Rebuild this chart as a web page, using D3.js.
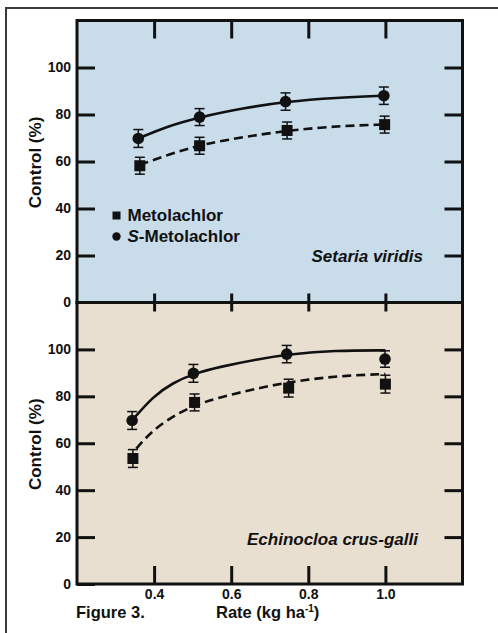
<!DOCTYPE html>
<html>
<head>
<meta charset="utf-8">
<script src="https://cdn.jsdelivr.net/npm/d3@7"></script>
<style>
  body { margin: 0; background: #fff; }
  svg text { font-family: "Liberation Sans", Arial, Helvetica, sans-serif; font-weight: bold; fill: #111; }
</style>
</head>
<body>
<div id="chart"></div>
<script>
// rates (kg/ha) and control (%)
const xTicks = [0.4, 0.6, 0.8, 1.0];
const yTicks = [0, 20, 40, 60, 80, 100];

const setariaRatesS = [0.359, 0.518, 0.741, 0.996];
const setariaS = [69.8, 78.9, 85.5, 88.0];
const setariaSErr = [3.8, 3.6, 3.7, 3.7];
const setariaRatesM = [0.363, 0.518, 0.745, 0.998];
const setariaM = [58.2, 66.7, 73.2, 75.7];
const setariaMErr = [3.6, 3.6, 3.6, 3.6];

const echinoRatesS = [0.343, 0.502, 0.744, 0.999];
const echinoS = [69.7, 89.8, 98.0, 95.9];
const echinoSErr = [3.8, 3.8, 3.7, 3.5];
const echinoRatesM = [0.345, 0.505, 0.749, 1.0];
const echinoM = [53.5, 77.4, 83.5, 85.2];
const echinoMErr = [3.8, 3.6, 3.8, 3.8];

// fitted curves, points
const setariaFitSX = [0.359, 0.432, 0.518, 0.631, 0.741, 0.873, 0.996];
const setariaFitSY = [69.8, 74.9, 78.9, 82.7, 85.5, 87.2, 88.0];
const setariaFitMX = [0.363, 0.449, 0.527, 0.639, 0.760, 0.890, 0.996];
const setariaFitMY = [58.6, 63.6, 67.4, 70.6, 73.5, 75.2, 75.7];
const echinoFitSX = [0.343, 0.397, 0.449, 0.502, 0.570, 0.674, 0.745, 0.870, 1.0];
const echinoFitSY = [69.7, 80.0, 85.8, 89.6, 92.6, 96.0, 97.8, 99.6, 99.6];
const echinoFitMX = [0.354, 0.397, 0.466, 0.527, 0.613, 0.700, 0.800, 0.900, 1.0];
const echinoFitMY = [57.7, 65.8, 73.3, 77.6, 81.3, 84.6, 87.3, 88.9, 89.5];

const width = 498, height = 633;
const left = 77, right = 462.5;

const svg = d3.select('#chart').append('svg')
  .attr('width', width)
  .attr('height', height);

// outer frame
svg.append('rect')
  .attr('x', 6).attr('y', 8)
  .attr('width', 600).attr('height', 700)
  .attr('fill', 'none')
  .attr('stroke', '#3a3a3a')
  .attr('stroke-width', 2);

const x = d3.scaleLinear().domain([0.2, 1.2]).range([left, right]);

const panels = [
  {
    top: 20.5, bottom: 302.5, fill: '#c8dcea', name: 'Setaria viridis',
    nameX: 423, nameY: 262, topTick: 18, bottomTick: 9, legend: true,
    S: { rates: setariaRatesS, vals: setariaS, err: setariaSErr, fx: setariaFitSX, fy: setariaFitSY },
    M: { rates: setariaRatesM, vals: setariaM, err: setariaMErr, fx: setariaFitMX, fy: setariaFitMY }
  },
  {
    top: 302.5, bottom: 584, fill: '#e8dfd1', name: 'Echinocloa crus-galli',
    nameX: 418, nameY: 545, topTick: 9, bottomTick: 18, legend: false,
    S: { rates: echinoRatesS, vals: echinoS, err: echinoSErr, fx: echinoFitSX, fy: echinoFitSY },
    M: { rates: echinoRatesM, vals: echinoM, err: echinoMErr, fx: echinoFitMX, fy: echinoFitMY }
  }
];

panels.forEach(function (p, i) {
  const y = d3.scaleLinear().domain([0, 120]).range([p.bottom, p.top]);
  const g = svg.append('g');

  g.append('rect')
    .attr('x', left).attr('y', p.top)
    .attr('width', right - left).attr('height', p.bottom - p.top)
    .attr('fill', p.fill);

  const styleAxis = function (sel) {
    sel.select('.domain').remove();
    sel.selectAll('.tick line').attr('stroke', '#111').attr('stroke-width', 3);
  };

  g.append('g').attr('transform', `translate(${left},0)`)
    .call(d3.axisLeft(y).tickValues(yTicks).tickSize(-18).tickPadding(6))
    .call(styleAxis)
    .selectAll('text').attr('font-size', 14).attr('fill', '#111');

  g.append('g').attr('transform', `translate(${right},0)`)
    .call(d3.axisRight(y).tickValues(yTicks.slice(1)).tickSize(-18).tickFormat(''))
    .call(styleAxis);

  g.append('g').attr('transform', `translate(0,${p.top})`)
    .call(d3.axisTop(x).tickValues(xTicks).tickSize(-p.topTick).tickFormat(''))
    .call(styleAxis);

  const bottomAxis = g.append('g').attr('transform', `translate(0,${p.bottom})`)
    .call(d3.axisBottom(x).tickValues(xTicks).tickSize(-p.bottomTick).tickPadding(5)
      .tickFormat(i === 1 ? d3.format('.1f') : ''))
    .call(styleAxis);
  bottomAxis.selectAll('text').attr('font-size', 14).attr('fill', '#111');

  // panel border
  g.append('rect')
    .attr('x', left).attr('y', p.top)
    .attr('width', right - left).attr('height', p.bottom - p.top)
    .attr('fill', 'none')
    .attr('stroke', '#111')
    .attr('stroke-width', 3);

  // y title
  g.append('text')
    .attr('transform', `translate(41,${(p.top + p.bottom) / 2 + 1}) rotate(-90)`)
    .attr('text-anchor', 'middle')
    .attr('font-size', 17)
    .text('Control (%)');

  // species name
  g.append('text')
    .attr('x', p.nameX).attr('y', p.nameY)
    .attr('text-anchor', 'end')
    .attr('font-size', 17)
    .attr('font-style', 'italic')
    .text(p.name);

  // fitted curves
  const line = d3.line()
    .x(d => x(d[0]))
    .y(d => y(d[1]))
    .curve(d3.curveBasis);

  g.append('path')
    .datum(d3.zip(p.S.fx, p.S.fy))
    .attr('d', line)
    .attr('fill', 'none')
    .attr('stroke', '#111')
    .attr('stroke-width', 2.6);

  g.append('path')
    .datum(d3.zip(p.M.fx, p.M.fy))
    .attr('d', line)
    .attr('fill', 'none')
    .attr('stroke', '#111')
    .attr('stroke-width', 2.6)
    .attr('stroke-dasharray', '9,5');

  // error bars + markers
  [p.M, p.S].forEach(function (s, k) {
    const pts = s.rates.map((r, j) => ({ r: r, v: s.vals[j], e: s.err[j] }));
    const eb = g.append('g').attr('stroke', '#111').attr('stroke-width', 1.5);
    eb.selectAll('.stem').data(pts).join('line')
      .attr('x1', d => x(d.r)).attr('x2', d => x(d.r))
      .attr('y1', d => y(d.v - d.e)).attr('y2', d => y(d.v + d.e));
    eb.selectAll('.capHi').data(pts).join('line')
      .attr('x1', d => x(d.r) - 5).attr('x2', d => x(d.r) + 5)
      .attr('y1', d => y(d.v + d.e)).attr('y2', d => y(d.v + d.e));
    eb.selectAll('.capLo').data(pts).join('line')
      .attr('x1', d => x(d.r) - 5).attr('x2', d => x(d.r) + 5)
      .attr('y1', d => y(d.v - d.e)).attr('y2', d => y(d.v - d.e));

    if (k === 0) {
      g.selectAll(null).data(pts).join('rect')
        .attr('x', d => x(d.r) - 5.5).attr('y', d => y(d.v) - 5.5)
        .attr('width', 11).attr('height', 11)
        .attr('fill', '#111');
    } else {
      g.selectAll(null).data(pts).join('circle')
        .attr('cx', d => x(d.r)).attr('cy', d => y(d.v))
        .attr('r', 5.8)
        .attr('fill', '#111');
    }
  });

  if (p.legend) {
    g.append('rect').attr('x', 112.5).attr('y', 211.5).attr('width', 8).attr('height', 8).attr('fill', '#111');
    g.append('text').attr('x', 127.5).attr('y', 221).attr('font-size', 17).text('Metolachlor');
    g.append('circle').attr('cx', 116.5).attr('cy', 236.5).attr('r', 4.2).attr('fill', '#111');
    const t = g.append('text').attr('x', 127.5).attr('y', 242).attr('font-size', 17);
    t.append('tspan').attr('font-style', 'italic').text('S');
    t.append('tspan').text('-Metolachlor');
  }
});

svg.append('text')
  .attr('x', 76).attr('y', 617.5)
  .attr('font-size', 16.5)
  .text('Figure 3.');

const rate = svg.append('text')
  .attr('x', 216).attr('y', 617.5)
  .attr('font-size', 16.5);
rate.append('tspan').text('Rate (kg ha');
rate.append('tspan').attr('font-size', 10).attr('dy', -6).text('-1');
rate.append('tspan').attr('dy', 6).text(')');
</script>
</body>
</html>
